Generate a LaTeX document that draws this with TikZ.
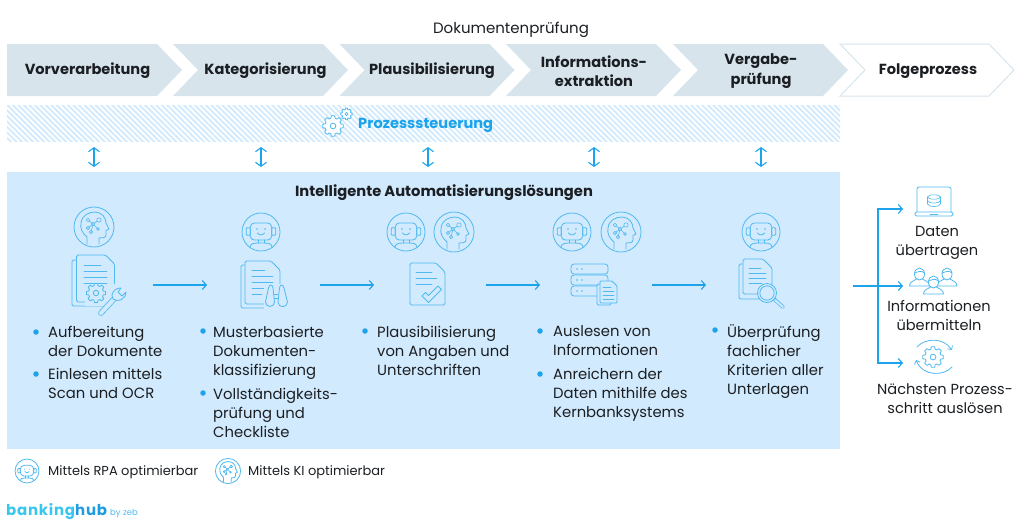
\documentclass[tikz,border=0pt]{standalone}
\usepackage{fontspec}
\setmainfont{Poppins}
\usetikzlibrary{arrows.meta,patterns.meta}
\definecolor{iconblue}{HTML}{4FB9F0}
\definecolor{linkblue}{HTML}{1CA3EA}
\definecolor{boxblue}{HTML}{D2EAFD}
\definecolor{stepgray}{HTML}{D7E4EC}
\definecolor{inktext}{HTML}{1B1F23}
\tikzset{
  icon/.style={draw=iconblue,line width=0.8pt,line join=round,line cap=round},
  link/.style={draw=linkblue,line width=1.1pt,-{Straight Barb[length=4pt,width=9pt]}},
  twoway/.style={draw=linkblue,line width=1.1pt,{Straight Barb[length=4pt,width=11pt]}-{Straight Barb[length=4pt,width=11pt]}},
  steplabel/.style={font=\fontsize{14.6}{19.5}\selectfont\bfseries,text=inktext,align=center,inner sep=0pt},
  bodytext/.style={font=\fontsize{14.8}{19}\selectfont,text=inktext,align=left,anchor=north west,inner sep=0pt},
  sidetext/.style={font=\fontsize{14.6}{19}\selectfont,text=inktext,align=center,inner sep=0pt},
  dotmark/.style={circle,fill=linkblue,inner sep=0pt,minimum size=5.5pt},
  pics/gear/.style={code={
    \draw[icon,fill=#1] plot[domain=0:360,samples=73,variable=\t] ({\t}:{1+0.28*(cos(8*\t)>0)}) -- cycle;
    \draw[icon] (0,0) circle (0.36);
  }},
  pics/robot/.style={code={
    \draw[icon] (0,0) circle (19);
    \draw[icon,rounded corners=1pt] (-14.7,-4.3) rectangle (-10.7,3.3);
    \draw[icon,rounded corners=1pt] (10.7,-4.3) rectangle (14.7,3.3);
    \draw[icon,rounded corners=4pt] (-10.7,-9) rectangle (10.7,8);
    \fill[iconblue] (-4,-3) circle (0.9) (4,-3) circle (0.9);
    \draw[icon] (-3.5,1) .. controls (-1.5,3.5) and (1.5,3.5) .. (3.5,1);
    \draw[icon] (-3,8) -- (-3,11) (3,8) -- (3,11);
    \draw[icon] (-11,15.5) .. controls (-11,12) and (-8,11) .. (-3,11) -- (3,11) .. controls (8,11) and (11,12) .. (11,15.5);
  }},
  pics/brain/.style={code={
    \draw[icon] (0,0) circle (20);
    \draw[icon] (-7,17) -- (-7,10) .. controls (-12,6) and (-14,1) .. (-13,-4)
      .. controls (-12,-12) and (-5,-15) .. (1,-15)
      .. controls (8,-15) and (12,-9) .. (12,-4) -- (15,2) -- (12,3.5) -- (12,8)
      .. controls (12,11) and (8,11) .. (5,11) -- (5,17);
    \draw[icon,line width=0.6pt] (-6,-7) -- (-1,-3) -- (5,-7) (-6,1) -- (-1,-3) -- (4,2) (-1,-3) -- (-3,5);
    \draw[icon,line width=0.6pt,fill=boxblue] (-1,-3) circle (1.6) (-6,-7) circle (1.8) (5,-7) circle (2.2)
      (-6,1) circle (1.6) (-3,5) circle (1.6) (4,2) circle (1.4);
  }},
  pics/sheet/.style 2 args={code={
    \draw[icon,fill=boxblue,rounded corners=1.5pt] (0,0) -- (#1-9,0) -- (#1,9) -- (#1,#2) -- (0,#2) -- cycle;
  }}
}
\begin{document}
\begin{tikzpicture}[x=1pt,y=-1pt]
  \useasboundingbox (0,0) rectangle (1024,528);

  \node[font=\fontsize{15}{18}\selectfont,text=inktext,inner sep=0pt] (title) at (511,30) {Dokumentenprüfung};

  \fill[stepgray] (7,44) -- (157,44) -- (182,70) -- (157,96) -- (7,96) -- cycle;
  \foreach \x in {173,339.5,506,673}{
    \fill[stepgray] (\x,44) -- (\x+150,44) -- (\x+175,70) -- (\x+150,96) -- (\x,96) -- (\x+25,70) -- cycle;
  }
  \draw[stepgray,line width=1pt] (840,44) -- (989,44) -- (1014,70) -- (989,96) -- (840,96) -- (865,70) -- cycle;
  \foreach \n/\x/\lab in {
    a/87.5/Vorverarbeitung,
    b/265.5/Kategorisierung,
    c/432/Plausibilisierung,
    d/594/{Informations-\\extraktion},
    e/761/{Vergabe-\\prüfung},
    f/928/Folgeprozess}{
    \node[steplabel] (step\n) at (\x,71) {\lab};
  }

  \fill[pattern={Lines[angle=-45,distance=3.9pt,line width=1.9pt]},pattern color=boxblue] (7,105) rectangle (840,141);
  \pic[scale=8] at (333,126) {gear=white};
  \pic[scale=4.5] at (346.5,114) {gear=white};
  \node[font=\fontsize{14.6}{18}\selectfont\bfseries,text=linkblue,inner sep=0pt,anchor=west] (control) at (358,125.5) {Prozesssteuerung};

  \fill[boxblue] (7,172) rectangle (840,449);
  \node[font=\fontsize{14.7}{18}\selectfont\bfseries,text=inktext,inner sep=0pt] (solutions) at (444,193) {Intelligente Automatisierungslösungen};

  \foreach \n/\x in {a/94,b/261,c/428,d/594,e/761}{
    \coordinate (up\n) at (\x,147);
    \coordinate (down\n) at (\x,167);
    \draw[twoway] (up\n) -- (down\n);
  }

  \pic at (94,227) {brain};
  \pic at (261,232) {robot};
  \pic at (406,232) {robot};
  \pic at (454,232) {brain};
  \pic at (572,232) {robot};
  \pic at (621,232) {brain};
  \pic at (761,232) {robot};

  % first sheet with gear and wrench
  \pic at (72,260) {sheet={37}{46}};
  \pic at (76.5,255) {sheet={38}{47}};
  \draw[icon] (84,265) -- (101,265) (84,271) -- (107,271) (84,277) -- (107,277) (84,283) -- (107,283);
  \fill[boxblue] (85,284) rectangle (118,306);
  \pic[scale=7.5] at (96,293) {gear=boxblue};
  \draw[iconblue,line width=5.6pt,line cap=round] (101,313) -- (114,299);
  \draw[boxblue,line width=4pt,line cap=round] (101,313) -- (114,299);
  \draw[icon,fill=boxblue] (121,288) .. controls (114,288) and (110,294) .. (113,299)
    .. controls (118,303) and (126,299) .. (126,292) -- (122,296) -- (118,292) -- cycle;

  % second sheet with binoculars
  \pic at (241,265) {sheet={34}{43}};
  \pic at (245,261) {sheet={35}{43}};
  \draw[icon] (252,270) -- (265,270) (252,276) -- (273,276) (252,282) -- (273,282) (252,288) -- (268,288) (252,294) -- (262,294);
  \fill[boxblue] (264,284) rectangle (290,309);
  \draw[icon] (274,294) -- (278,294) (274,298) -- (278,298);
  \draw[icon,fill=boxblue] (265.5,302) -- (268.5,288) .. controls (269.5,284) and (272.5,284) .. (273,288) -- (274.5,302) arc (0:180:4.5) -- cycle;
  \draw[icon,fill=boxblue] (278,302) -- (279.5,288) .. controls (280,284) and (283,284) .. (284,288) -- (287.5,302) arc (0:180:4.75) -- cycle;

  % third sheet with tick
  \pic at (410,263) {sheet={35}{42}};
  \draw[icon] (416,272) -- (432,272) (416,278) -- (437,278) (416,284) -- (432,284);
  \draw[icon,fill=boxblue] (422,296) -- (425.5,292.5) -- (428.5,295.5) -- (438,286) -- (441.5,289.5) -- (428.5,302.5) -- cycle;

  % server rack with small sheet
  \foreach \y in {264,275,286}{
    \draw[icon,rounded corners=3pt] (571,\y) rectangle (608,\y+10);
    \fill[iconblue] (577,\y+5) circle (0.8) (582,\y+5) circle (0.8);
  }
  \pic[scale=1] at (597,284) {sheet={14}{21}};
  \draw[icon,fill=boxblue,rounded corners=1pt] (600,281) -- (612,281) -- (617,286) -- (617,303) -- (600,303) -- cycle;
  \draw[icon,line width=0.6pt] (603,287) -- (611,287) (603,291) -- (614,291) (603,295) -- (614,295) (603,299) -- (614,299);

  % fifth sheet with magnifier
  \pic at (739,264) {sheet={30}{35}};
  \pic at (743,259) {sheet={29}{35}};
  \draw[icon] (749,268) -- (761,268) (749,273) -- (766,273) (749,278) -- (766,278) (749,283) -- (762,283);
  \draw[iconblue,line width=3.6pt,line cap=round] (774,299) -- (783,307);
  \draw[boxblue,line width=2pt,line cap=round] (775,300) -- (783,307);
  \draw[icon,fill=boxblue] (767,293) circle (9.5);
  \draw[icon] (767,293) circle (7.2);

  \foreach \n/\x in {a/153,b/320,c/486,d/652}{
    \coordinate (from\n) at (\x,285);
    \coordinate (to\n) at (\x+54,285);
    \draw[link] (from\n) -- (to\n);
  }

  \foreach \n/\x/\y in {a/36/332,aa/36/374,b/203/331,bb/203/393,c/365/331,d/540/331,dd/540/374,e/715/330}{
    \node[dotmark] (dot\n) at (\x,\y) {};
  }
  \node[bodytext] (texta) at (48,326) {Aufbereitung\\der Dokumente};
  \node[bodytext] (textaa) at (48,368) {Einlesen mittels\\Scan und OCR};
  \node[bodytext] (textb) at (213,326) {Musterbasierte\\Dokumenten-\\klassifizierung};
  \node[bodytext] (textbb) at (213,388) {Vollständigkeits-\\prüfung und\\Checkliste};
  \node[bodytext] (textc) at (377,326) {Plausibilisierung\\von Angaben und\\Unterschriften};
  \node[bodytext] (textd) at (553,325) {Auslesen von\\Informationen};
  \node[bodytext] (textdd) at (553,368) {Anreichern der\\Daten mithilfe des\\Kernbanksystems};
  \node[bodytext] (texte) at (727,324) {Überprüfung\\fachlicher\\Kriterien aller\\Unterlagen};

  % outgoing branches
  \coordinate (branch) at (853,286);
  \coordinate (fork) at (878,286);
  \coordinate (forktop) at (878,209);
  \coordinate (forkbot) at (878,363);
  \coordinate (outa) at (903,209);
  \coordinate (outb) at (903,286);
  \coordinate (outc) at (903,363);
  \draw[link] (branch) -- (outb);
  \draw[link] (fork) -- (forktop) -- (outa);
  \draw[link] (fork) -- (forkbot) -- (outc);

  \draw[icon,rounded corners=2pt] (917,212) -- (917,187) -- (951,187) -- (951,212);
  \draw[icon,rounded corners=1.5pt] (915,212) -- (953,212) -- (953,216) -- (915,216) -- cycle;
  \draw[icon] (930,214) -- (938,214);
  \draw[icon,line width=0.6pt] (934,197) ellipse (6.5 and 2.2);
  \draw[icon,line width=0.6pt] (927.5,197) -- (927.5,204) .. controls (929,207.5) and (939,207.5) .. (940.5,204) -- (940.5,197);
  \draw[icon,line width=0.6pt] (927.5,200.5) .. controls (929,204) and (939,204) .. (940.5,200.5);
  \node[sidetext] (sidea) at (937,242.5) {Daten\\übertragen};

  \foreach \x/\y in {919.5/273,947/273,933.5/281}{
    \draw[icon,fill=white] (\x-10,\y+13) .. controls (\x-10,\y+9) and (\x-6,\y+8) .. (\x-3,\y+6) -- (\x+3,\y+6) .. controls (\x+6,\y+8) and (\x+10,\y+9) .. (\x+10,\y+13) -- cycle;
    \draw[icon,fill=white] (\x,\y+1) ellipse (5 and 6);
    \draw[icon] (\x-5,\y) .. controls (\x-2,\y-1) and (\x+2,\y-3) .. (\x+5,\y);
  }
  \node[sidetext] (sideb) at (939,315.5) {Informationen\\übermitteln};

  \pic[scale=8] at (933,357) {gear=white};
  \draw[icon,-{Straight Barb[length=3pt,width=6pt]}] (917,347) .. controls (925,338) and (943,337) .. (952,350);
  \draw[icon,-{Straight Barb[length=3pt,width=6pt]}] (952,367) .. controls (944,376) and (923,377) .. (916,360);
  \node[sidetext] (sidec) at (945,399) {Nächsten Prozess-\\schritt auslösen};

  \pic[scale=0.63] at (27,471) {robot};
  \node[font=\fontsize{13}{16}\selectfont,text=inktext,inner sep=0pt,anchor=west] (legrpa) at (48,472) {Mittels RPA optimierbar};
  \pic[scale=0.63] at (228,471) {brain};
  \node[font=\fontsize{13}{16}\selectfont,text=inktext,inner sep=0pt,anchor=west] (legki) at (248,472) {Mittels KI optimierbar};

  \node[font=\fontsize{15}{18}\selectfont\bfseries\addfontfeature{LetterSpace=5},inner sep=0pt,anchor=base west] (logo) at (6,515) {\textcolor[HTML]{38C6EE}{banking}\textcolor[HTML]{1F9BE2}{hub}};
  \node[font=\fontsize{8.5}{9}\selectfont,text=iconblue,inner sep=0pt,anchor=base west] (logoby) at (110,515) {by zeb};
\end{tikzpicture}
\end{document}
